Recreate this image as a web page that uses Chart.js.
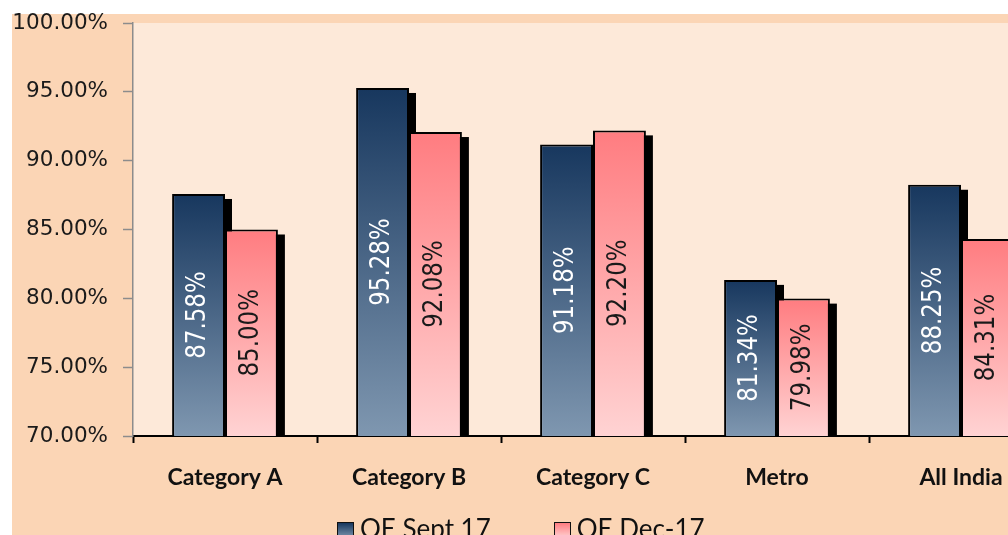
<!DOCTYPE html>
<html lang="en">
<head>
<meta charset="UTF-8">
<title>QE Sept 17 vs QE Dec-17</title>
<style>
  html, body { margin: 0; padding: 0; background: #fff; overflow: hidden; }
  #chart { position: absolute; left: 0; top: 0; }
  .legend { position: absolute; left: 337px; top: 513px; display: flex; gap: 63px;
            font-family: Lato, sans-serif; font-size: 26px; color: #111; line-height: 30px; }
  .legend .item { display: flex; align-items: center; }
  .legend .box { width: 15px; height: 15px; border: 1.5px solid #111; margin-right: 6px; margin-top: 4px; }
</style>
<script src="https://cdn.jsdelivr.net/npm/chart.js"></script>
</head>
<body>
<canvas id="chart" width="1053" height="535"></canvas>
<div class="legend">
  <div class="item"><div class="box" style="background: linear-gradient(#17375E, #7F97B0)"></div>QE Sept 17</div>
  <div class="item"><div class="box" style="background: linear-gradient(#FF7C80, #FFD3D3)"></div>QE Dec-17</div>
</div>
<script>
const categories = ['Category A', 'Category B', 'Category C', 'Metro', 'All India'];
const seriesNames = ['QE Sept 17', 'QE Dec-17'];
const sept17 = [87.58, 95.28, 91.18, 81.34, 88.25];
const dec17 = [85.00, 92.08, 92.20, 79.98, 84.31];
const yTicks = [70, 75, 80, 85, 90, 95, 100];

const labelColors = ['#ffffff', '#1a1a1a'];

// vertical gradient per bar, from its top down to the axis
function barFill(top, bottom, fallback) {
  return (c) => {
    const chart = c.chart, area = chart.chartArea;
    if (!area || c.type !== 'data') return fallback;
    const y = chart.scales.y.getPixelForValue(c.raw);
    const g = chart.ctx.createLinearGradient(0, y, 0, area.bottom);
    g.addColorStop(0, top);
    g.addColorStop(1, bottom);
    return g;
  };
}

const bgPlugin = {
  id: 'bg',
  beforeDraw(chart) {
    const { ctx, chartArea: a } = chart;
    ctx.save();
    ctx.fillStyle = '#FBD5B5';
    ctx.fillRect(12, 14, chart.width - 12, chart.height - 14);
    ctx.fillStyle = '#FDE9D9';
    ctx.fillRect(a.left, a.top, a.right - a.left, a.bottom - a.top);
    ctx.restore();
  }
};

// black drop shadow behind every bar, drawn before any bar
const shadowPlugin = {
  id: 'barShadow',
  beforeDatasetsDraw(chart) {
    const { ctx, chartArea: a } = chart;
    ctx.save();
    ctx.beginPath();
    ctx.rect(a.left, a.top - 10, a.right - a.left + 10, a.bottom - a.top + 10);
    ctx.clip();
    ctx.fillStyle = '#000';
    chart.data.datasets.forEach((ds, i) => {
      chart.getDatasetMeta(i).data.forEach(bar => {
        const { x, y, base, width } = bar.getProps(['x', 'y', 'base', 'width'], true);
        ctx.fillRect(x - width / 2 + 7, y + 5, width, base - y);
      });
    });
    ctx.restore();
  }
};

// value labels, rotated, in the middle of the visible part of each bar
// (base is the pixel of 0, far below the axis, so cap it at the axis)
const labelPlugin = {
  id: 'barLabels',
  afterDraw(chart) {
    const ctx = chart.ctx;
    const bottom = chart.chartArea.bottom;
    chart.data.datasets.forEach((ds, i) => {
      chart.getDatasetMeta(i).data.forEach((bar, j) => {
        const p = bar.getProps(['x', 'y', 'base'], true);
        const cy = (p.y + Math.min(p.base, bottom)) / 2;
        ctx.save();
        ctx.translate(p.x, cy);
        ctx.rotate(-Math.PI / 2);
        ctx.scale(1, 1.15);
        ctx.font = "23px 'DejaVu Sans', sans-serif";
        ctx.fillStyle = labelColors[i];
        ctx.textAlign = 'center';
        ctx.textBaseline = 'middle';
        ctx.fillText(ds.data[j].toFixed(2) + '%', 0, 0);
        ctx.restore();
      });
    });
  }
};

new Chart(document.getElementById('chart'), {
  type: 'bar',
  data: {
    labels: categories,
    datasets: [
      { label: seriesNames[0], data: sept17, backgroundColor: barFill('#17375E', '#7F97B0', '#4a6688'),
        borderColor: '#000', borderWidth: 2, clip: { left: 5, top: 5, right: 5, bottom: 0 } },
      { label: seriesNames[1], data: dec17, backgroundColor: barFill('#FF7C80', '#FFD3D3', '#ffa3a6'),
        borderColor: '#000', borderWidth: 2, clip: { left: 5, top: 5, right: 5, bottom: 0 } }
    ]
  },
  options: {
    responsive: false,
    animation: false,
    categoryPercentage: 0.575,
    barPercentage: 1.0,
    layout: { padding: { top: 23, left: 0, right: 0, bottom: 0 } },
    plugins: { legend: { display: false }, tooltip: { enabled: false } },
    scales: {
      x: {
        z: 1,
        ticks: { font: { family: 'Lato', size: 23, weight: 'bold' }, color: '#111', padding: 21 },
        grid: { offset: true, drawOnChartArea: false, tickLength: 7, tickColor: '#000', tickWidth: 2 },
        border: { color: '#000', width: 2 },
        afterFit(s) { s.height = 99; }
      },
      y: {
        min: yTicks[0], max: yTicks[yTicks.length - 1],
        afterBuildTicks(s) { s.ticks = yTicks.map(v => ({ value: v })); },
        ticks: { callback: v => v.toFixed(2) + '%', font: { family: "'DejaVu Sans', sans-serif", size: 21.5 }, color: '#1a1a1a', padding: 15 },
        grid: { drawOnChartArea: false, tickLength: 10, tickColor: '#8c8c8c', tickWidth: 1.5 },
        border: { color: '#8c8c8c', width: 1.5 },
        afterFit(s) { s.width = 133; s.paddingTop = 0; s.paddingBottom = 0; }
      }
    }
  },
  plugins: [bgPlugin, shadowPlugin, labelPlugin]
});
</script>
</body>
</html>
